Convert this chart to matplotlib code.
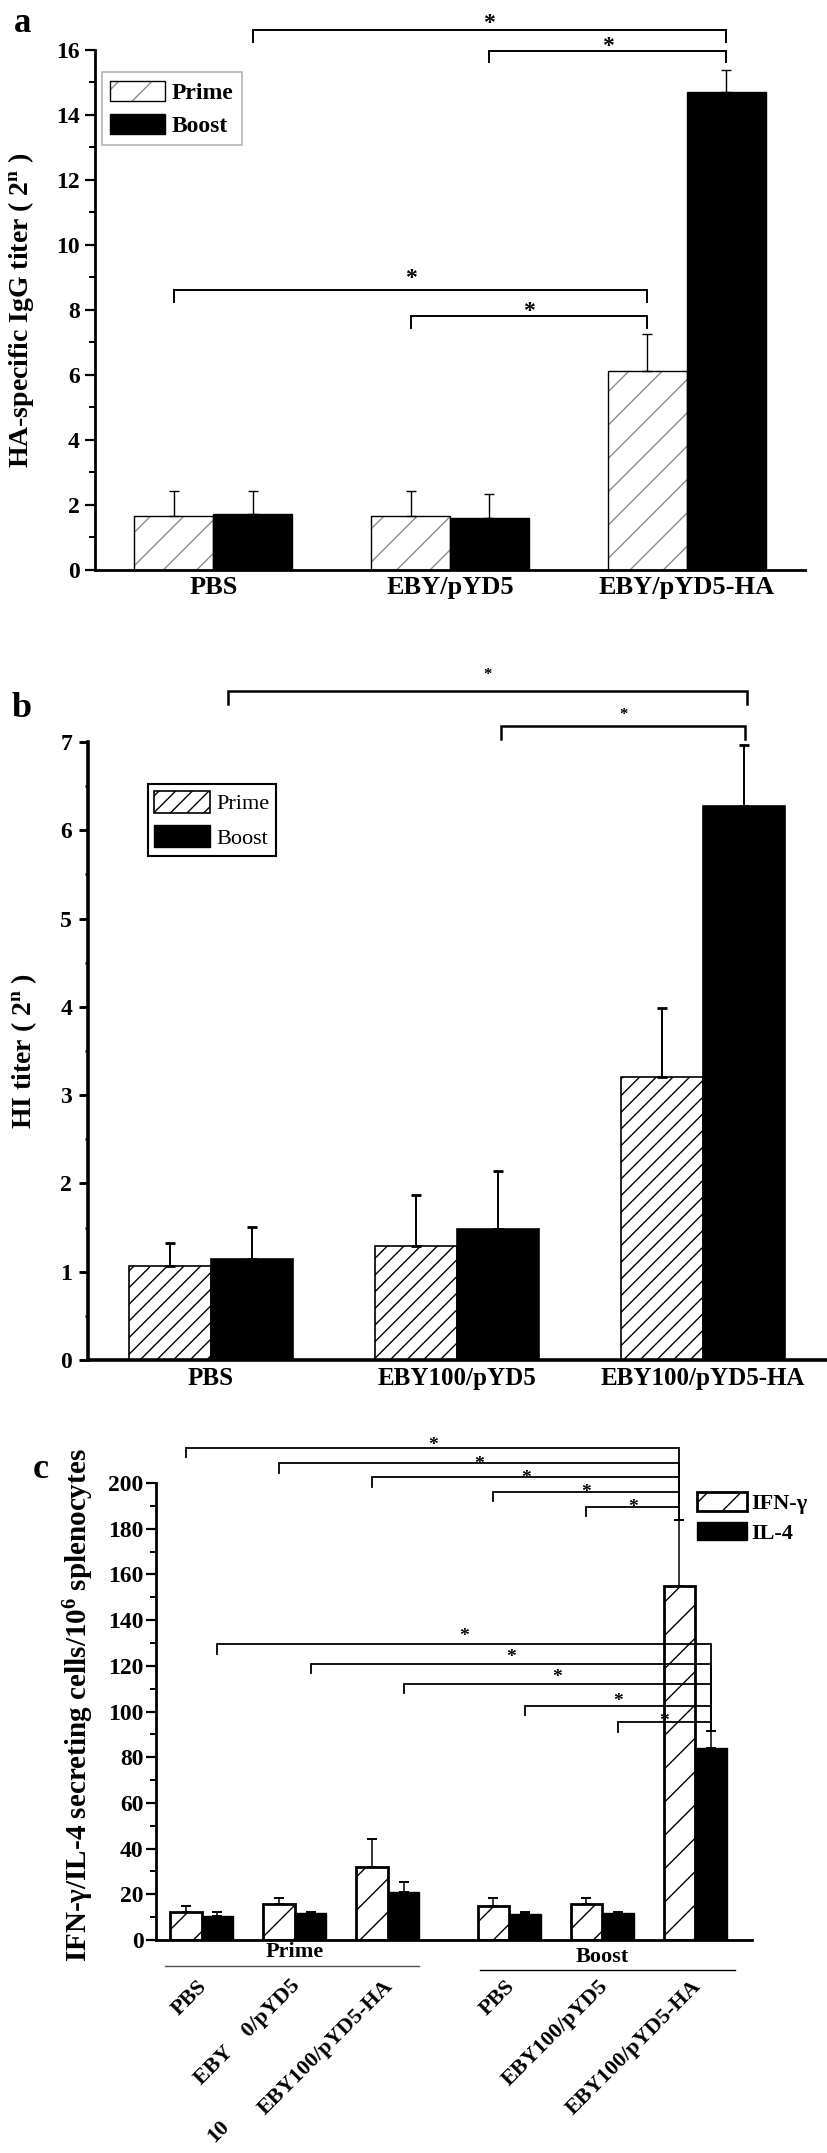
import numpy as np
import matplotlib
matplotlib.use("Agg")
import matplotlib.pyplot as plt
from matplotlib.patches import Patch
from matplotlib.legend_handler import HandlerTuple
from matplotlib.ticker import MultipleLocator

plt.rcParams['font.family'] = ['Liberation Serif', 'DejaVu Serif']
plt.rcParams['font.weight'] = 'bold'
plt.rcParams['mathtext.fontset'] = 'custom'
plt.rcParams['mathtext.rm'] = 'Liberation Serif:bold'
plt.rcParams['mathtext.bf'] = 'Liberation Serif:bold'
plt.rcParams['mathtext.it'] = 'Liberation Serif:bold:italic'
plt.rcParams['hatch.linewidth'] = 1.0

# ---- panel a : HA-specific IgG ----
groups_a = ['PBS', 'EBY/pYD5', 'EBY/pYD5-HA']
prime_a = [1.65, 1.65, 6.13]
prime_a_err = [0.79, 0.79, 1.13]
boost_a = [1.73, 1.61, 14.70]
boost_a_err = [0.71, 0.74, 0.69]
# (series, group from, series, group to, bracket height, star height)
sig_a = [('boost', 0, 'boost', 2, 16.6, 17.0),
         ('boost', 1, 'boost', 2, 15.98, 16.3),
         ('prime', 0, 'prime', 2, 8.6, 9.15),
         ('prime', 1, 'prime', 2, 7.8, 8.15)]

# ---- panel b : HI titer ----
groups_b = ['PBS', 'EBY100/pYD5', 'EBY100/pYD5-HA']
prime_b = [1.07, 1.29, 3.21]
prime_b_err = [0.26, 0.58, 0.78]
boost_b = [1.14, 1.48, 6.28]
boost_b_err = [0.37, 0.66, 0.69]
# (x from, x to, bracket height, star height)
sig_b = [(0.07, 2.18, 7.58, 7.81),
         (1.18, 2.17, 7.18, 7.35)]

# ---- panel c : ELISPOT ----
groups_c = ['PBS', 'EBY100/pYD5', 'EBY100/pYD5-HA',
            'PBS', 'EBY100/pYD5', 'EBY100/pYD5-HA']
ifn = [12.4, 15.6, 32.0, 14.8, 15.6, 155.0]
ifn_err = [2.6, 2.9, 12.4, 3.7, 2.9, 29.0]
il4 = [10.5, 11.6, 20.9, 11.2, 11.6, 84.0]
il4_err = [1.6, 0.5, 4.6, 1.2, 0.6, 7.3]
# (group compared with boost EBY100/pYD5-HA, bracket height, star height)
sig_ifn = [(0, 215.4, 218.4), (1, 208.7, 210.3), (2, 202.6, 204.1),
           (3, 196.2, 197.8), (4, 189.7, 191.2)]
sig_il4 = [(0, 129.4, 135.0), (1, 121.0, 125.7), (2, 112.2, 116.9),
           (3, 102.6, 106.6), (4, 95.3, 97.8)]

W, H = 827, 2153
fig = plt.figure(figsize=(W / 100, H / 100), dpi=100)


def px_axes(left, right, top, bottom):
    return fig.add_axes([left / W, 1 - bottom / H, (right - left) / W, (bottom - top) / H])


def style(ax, lw, tsize, major, minor, pad):
    ax.spines[['top', 'right']].set_visible(False)
    ax.spines['left'].set_linewidth(lw)
    ax.spines['bottom'].set_linewidth(lw)
    ax.tick_params(axis='x', length=0)
    ax.tick_params(axis='y', which='major', direction='out', length=major, width=lw * 0.8,
                   labelsize=tsize, pad=pad)
    ax.tick_params(axis='y', which='minor', direction='out', length=minor, width=lw * 0.7)


def star(ax, x, y, fs):
    ax.annotate('*', xy=(x, y), xytext=(0, -0.25 * fs), textcoords='offset points',
                ha='center', va='center', fontsize=fs, fontweight='bold', annotation_clip=False)


def bracket(ax, x1, x2, y, ys, d1, y2, lw, fs):
    ax.plot([x1, x1, x2, x2], [y - d1, y, y, y2], color='black', lw=lw, clip_on=False,
            solid_joinstyle='miter')
    star(ax, (x1 + x2) / 2, ys, fs)


# ================= panel a =================
ax = px_axes(95, 805, 50, 570)
x = np.arange(len(groups_a))
w = 1 / 3
ax.bar(x - w / 2, prime_a, w, color='white', edgecolor='#8c8c8c', hatch='/', lw=0)
ax.bar(x - w / 2, prime_a, w, fill=False, edgecolor='black', lw=1.0)
ax.bar(x + w / 2, boost_a, w, color='black', edgecolor='black', lw=1.0)
ax.errorbar(x - w / 2, prime_a, yerr=[np.zeros(3), prime_a_err], fmt='none', ecolor='black',
            elinewidth=1.0, capsize=3.5, capthick=1.0)
ax.errorbar(x + w / 2, boost_a, yerr=[np.zeros(3), boost_a_err], fmt='none', ecolor='black',
            elinewidth=1.0, capsize=3.5, capthick=1.0)
ax.set_xlim(-0.5, 2.5)
ax.set_ylim(0, 16)
ax.yaxis.set_major_locator(MultipleLocator(2))
ax.yaxis.set_minor_locator(MultipleLocator(1))
ax.set_xticks(x)
ax.set_xticklabels(groups_a, fontsize=19, fontweight='bold')
ax.tick_params(axis='x', pad=4)
style(ax, 2.0, 17, 7, 4.5, 4)
ax.set_ylabel('HA-specific IgG titer ( $\\mathbf{2^n}$ )', fontsize=20, fontweight='bold')
ax.yaxis.set_label_coords(-0.083, 0.5)
off = {'prime': -w / 2, 'boost': w / 2}
for s1, g1, s2, g2, yb, ys in sig_a:
    bracket(ax, g1 + off[s1], g2 + off[s2], yb, ys, 0.35, yb - 0.35, 1.4, 17)
hp = (Patch(facecolor='white', edgecolor='#8c8c8c', hatch='/', lw=0),
      Patch(facecolor='none', edgecolor='black', lw=1.0))
hb = Patch(facecolor='black', edgecolor='black')
leg = ax.legend([hp, hb], ['Prime', 'Boost'], handler_map={tuple: HandlerTuple(ndivide=1, pad=0)},
                loc='upper left', bbox_to_anchor=(0.01, 0.957), borderaxespad=0, fancybox=False,
                edgecolor='#b5b5b5', framealpha=1, prop={'weight': 'bold', 'size': 17},
                handlelength=2.3, handleheight=0.95, labelspacing=0.42, borderpad=0.35,
                handletextpad=0.3)
leg.get_frame().set_linewidth(1.2)
fig.text(23 / W, 1 - 23 / H, 'a', fontsize=25, fontweight='bold', ha='center', va='center')

# ================= panel b =================
ax = px_axes(88, 826, 742, 1360)
x = np.arange(len(groups_b))
ax.bar(x - w / 2, prime_b, w, color='white', edgecolor='black', hatch='//', lw=1.2)
ax.bar(x + w / 2, boost_b, w, color='black', edgecolor='black', lw=1.2)
ax.errorbar(x - w / 2, prime_b, yerr=[np.zeros(3), prime_b_err], fmt='none', ecolor='black',
            elinewidth=1.4, capsize=3.5, capthick=2.0)
ax.errorbar(x + w / 2, boost_b, yerr=[np.zeros(3), boost_b_err], fmt='none', ecolor='black',
            elinewidth=1.4, capsize=3.5, capthick=2.0)
ax.set_xlim(-0.5, 2.5)
ax.set_ylim(0, 7)
ax.yaxis.set_major_locator(MultipleLocator(1))
ax.yaxis.set_minor_locator(MultipleLocator(0.5))
ax.set_xticks(x)
ax.set_xticklabels(groups_b, fontsize=18, fontweight='bold')
ax.tick_params(axis='x', pad=5)
style(ax, 2.6, 17, 6.5, 2.5, 5)
ax.set_ylabel('HI titer ( $\\mathbf{2^n}$ )', fontsize=20, fontweight='bold')
ax.yaxis.set_label_coords(-0.066, 0.5)
for x1, x2, yb, ys in sig_b:
    bracket(ax, x1, x2, yb, ys, 0.15, yb - 0.15, 1.8, 12)
hp = Patch(facecolor='white', edgecolor='black', hatch='//', lw=1.2)
hb = Patch(facecolor='black', edgecolor='black')
leg = ax.legend([hp, hb], ['Prime', 'Boost'], loc='upper left', bbox_to_anchor=(0.081, 0.932),
                borderaxespad=0, fancybox=False, edgecolor='black', framealpha=1,
                prop={'weight': 'normal', 'size': 16}, handlelength=2.5, handleheight=1.15,
                labelspacing=0.5, borderpad=0.3, handletextpad=0.3)
leg.get_frame().set_linewidth(1.5)
fig.text(22 / W, 1 - 708 / H, 'b', fontsize=26, fontweight='bold', ha='center', va='center')

# ================= panel c =================
ax = px_axes(156, 752, 1483, 1940)
pos = np.array([1.45, 4.4, 7.35, 11.2, 14.15, 17.1])
ax.bar(pos - 0.5, ifn, 1.0, color='white', edgecolor='black', hatch='/', lw=2.0)
ax.bar(pos + 0.5, il4, 1.0, color='black', edgecolor='black', lw=1.0)
ax.errorbar(pos - 0.5, ifn, yerr=[np.zeros(6), ifn_err], fmt='none', ecolor='black',
            elinewidth=1.1, capsize=3.5, capthick=1.4)
ax.errorbar(pos + 0.5, il4, yerr=[np.zeros(6), il4_err], fmt='none', ecolor='black',
            elinewidth=1.1, capsize=3.5, capthick=1.4)
ax.set_xlim(0, 18.9)
ax.set_ylim(0, 200)
ax.yaxis.set_major_locator(MultipleLocator(20))
ax.yaxis.set_minor_locator(MultipleLocator(10))
ax.set_xticks([])
style(ax, 2.0, 17, 7, 4.3, 2)
ax.set_ylabel('IFN-γ/IL-4 secreting cells/10$^{\\mathbf{6}}$ splenocytes', fontsize=21,
              fontweight='bold')
ax.yaxis.set_label_coords(-0.10, 0.514)
top_ifn = ifn[5] + ifn_err[5]
top_il4 = il4[5] + il4_err[5]
for g, yb, ys in sig_ifn:
    bracket(ax, pos[g] - 0.5, pos[5] - 0.5, yb, ys, 4.2, top_ifn, 1.3, 14)
for g, yb, ys in sig_il4:
    bracket(ax, pos[g] + 0.5, pos[5] + 0.5, yb, ys, 4.2, top_il4, 1.3, 14)

tr = ax.get_xaxis_transform()
ax.text(pos[1], -0.026, 'Prime', transform=tr, ha='center', va='center', fontsize=16,
        fontweight='bold')
ax.text(pos[4], -0.037, 'Boost', transform=tr, ha='center', va='center', fontsize=16,
        fontweight='bold')
ax.plot([0.29, 8.35], [-0.057, -0.057], transform=tr, color='#555555', lw=1.0, clip_on=False)
ax.plot([10.29, 18.35], [-0.066, -0.066], transform=tr, color='black', lw=1.0, clip_on=False)
for i, lab in enumerate(groups_c):
    if i == 1:
        lab = 'EBY    0/pYD5'
    ax.annotate(lab, xy=(pos[i], 0), xycoords=('data', 'axes fraction'), xytext=(7, -26),
                textcoords='offset points', rotation=45, ha='right', va='top', fontsize=16,
                fontweight='bold', annotation_clip=False)
ax.annotate('10', xy=(pos[1], 0), xycoords=('data', 'axes fraction'), xytext=(-55, -138),
            textcoords='offset points', rotation=45, ha='center', va='center', fontsize=16,
            fontweight='bold', annotation_clip=False)
hi = Patch(facecolor='white', edgecolor='black', hatch='/', lw=2.0)
hl = Patch(facecolor='black', edgecolor='black')
ax.legend([hi, hl], ['IFN-γ', 'IL-4'], loc='upper left', bbox_to_anchor=(0.908, 0.98),
          frameon=False, borderaxespad=0, borderpad=0, prop={'weight': 'bold', 'size': 16},
          handlelength=2.25, handleheight=0.9, labelspacing=0.36, handletextpad=0.2)
fig.text(41 / W, 1 - 1470 / H, 'c', fontsize=26, fontweight='bold', ha='center', va='center')

fig.savefig('out.png', dpi=100)
